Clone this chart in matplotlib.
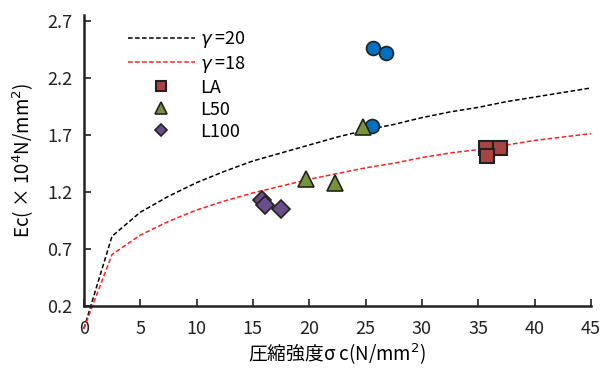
import matplotlib.pyplot as plt

plt.rcParams['font.family'] = ['Noto Sans CJK JP', 'DejaVu Sans']

# curves
x_curve = [0, 2.5, 5, 7.5, 10, 12.5, 15, 17.5, 20, 22.5, 25, 27.5, 30, 32.5, 35, 37.5, 40, 42.5, 45]
g20 = [0.0, 0.81, 1.02, 1.16, 1.28, 1.38, 1.47, 1.54, 1.61, 1.68, 1.74, 1.79, 1.85, 1.90, 1.94, 1.99, 2.03, 2.07, 2.11]
g18 = [0.0, 0.65, 0.82, 0.94, 1.04, 1.12, 1.19, 1.25, 1.31, 1.36, 1.41, 1.45, 1.50, 1.54, 1.57, 1.61, 1.65, 1.68, 1.71]

# measured points
blue_x = [25.7, 26.8, 25.6]
blue_y = [2.46, 2.42, 1.78]
la_x = [35.7, 36.9, 35.8]
la_y = [1.58, 1.58, 1.51]
l50_x = [24.8, 19.7, 22.3]
l50_y = [1.77, 1.31, 1.28]
l100_x = [15.8, 16.1, 17.5]
l100_y = [1.13, 1.08, 1.05]

fig = plt.figure(figsize=(6.03, 3.69), dpi=100)
ax = fig.add_axes([0.139, 0.171, 0.841, 0.787])

ax.plot(x_curve, g20, ls=(0, (3, 1.6)), color='black', lw=1.1, label='$\\gamma$ =20', clip_on=False, zorder=2)
ax.plot(x_curve, g18, ls=(0, (3, 1.6)), color='#ff2020', lw=1.1, label='$\\gamma$ =18', clip_on=False, zorder=2)

ec = '#222222'
ax.plot(blue_x, blue_y, 'o', ms=10, mfc='#0070c0', mec=ec, mew=1.2, ls='none', zorder=3)
ax.plot(la_x, la_y, 's', ms=10, mfc='#a94442', mec=ec, mew=1.5, ls='none', label='LA', zorder=3)
ax.plot(l50_x, l50_y, '^', ms=12, mfc='#77933c', mec=ec, mew=1.2, ls='none', label='L50', zorder=4)
ax.plot(l100_x, l100_y, 'D', ms=9, mfc='#6a4e8c', mec=ec, mew=1.2, ls='none', label='L100', zorder=3)

ax.set_xlim(0, 45)
ax.set_ylim(0.2, 2.745)
ax.set_xticks([0, 5, 10, 15, 20, 25, 30, 35, 40, 45])
ax.set_yticks([0.2, 0.7, 1.2, 1.7, 2.2, 2.7])
ax.set_yticklabels(['0.2', '0.7', '1.2', '1.7', '2.2', '2.7'])
ax.tick_params(direction='in', length=5, width=1.2, labelsize=13, colors='#222222')
ax.tick_params(axis='x', pad=10)
ax.tick_params(axis='y', pad=8)
for s in ['top', 'right']:
    ax.spines[s].set_visible(False)
for s in ['left', 'bottom']:
    ax.spines[s].set_linewidth(1.8)
    ax.spines[s].set_color('#222222')

ax.set_xlabel('圧縮強度σ c(N/mm$^2$)', fontsize=13.5, labelpad=3)
ax.set_ylabel('Ec( × 10$^4$N/mm$^2$)', fontsize=13.5, labelpad=8)

leg = ax.legend(loc='upper left', bbox_to_anchor=(0.055, 1.01), frameon=False, fontsize=13,
                handlelength=3.7, handletextpad=0.3, labelspacing=0.22, markerscale=0.7)
plt.savefig('out.png', dpi=100)
